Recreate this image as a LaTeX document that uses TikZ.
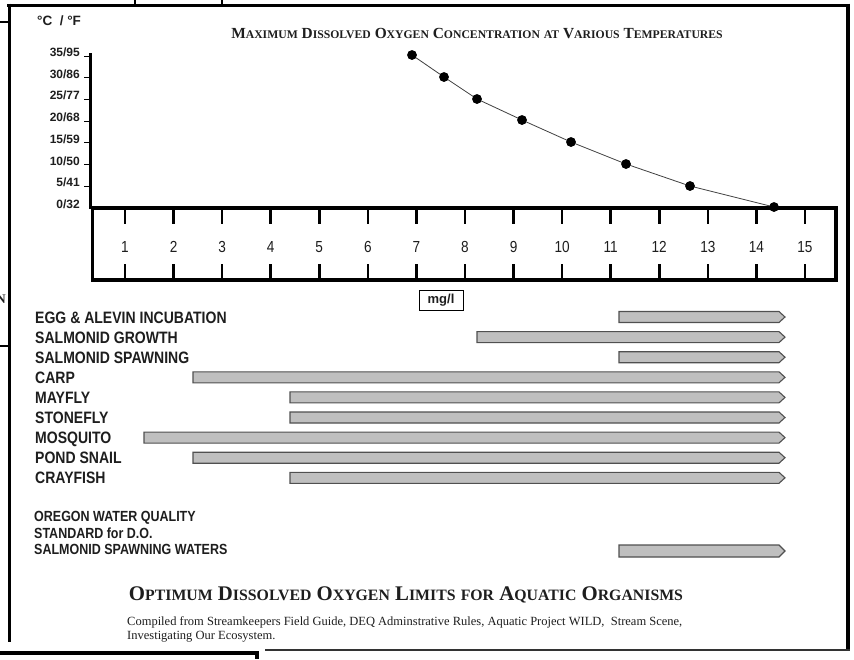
\documentclass[tikz,border=0pt]{standalone}
\usepackage{fontspec}
\setmainfont{Liberation Serif}
\newfontfamily\tnr{Liberation Serif}
\newfontfamily\arial{Liberation Sans}
\newfontfamily\narrow{Liberation Sans}[FakeStretch=0.85]
\makeatletter
\newcommand\smc[1]{{\fontsize{\fpeval{0.76*\f@size}}{\f@baselineskip}\selectfont #1}}
\makeatother
\definecolor{ink}{HTML}{1E1E1E}
\definecolor{barfill}{HTML}{BFBFBF}
\definecolor{baredge}{HTML}{505050}
\begin{document}
\begin{tikzpicture}[x=1pt,y=-1pt,
  frame/.style={line width=3pt, black},
  orglbl/.style={anchor=base west, inner sep=0pt, font=\narrow\bfseries\fontsize{16.5}{18}\selectfont, text=ink},
  orelbl/.style={anchor=base west, inner sep=0pt, font=\narrow\bfseries\fontsize{14.7}{16}\selectfont, text=ink},
  ylbl/.style={anchor=base east, inner sep=0pt, font=\arial\bfseries\fontsize{12}{13}\selectfont, text=ink},
  numlbl/.style={anchor=base, inner sep=0pt, font=\narrow\fontsize{16}{17}\selectfont, text=ink},
  bar/.style={fill=barfill, draw=baredge, line width=1.1pt, line join=miter},
  dot/.style={circle, fill=black, inner sep=0pt, minimum size=9.5pt},
  rtick/.style={line width=2.6pt, black},
  curve/.style={line width=0.8pt, black!75}
]
\useasboundingbox (0,0) rectangle (854,659);
\fill[white] (0,0) rectangle (854,659);

% --- outer frame fragments ---
\draw[frame] (7,5) -- (849.5,5);
\draw[frame, line width=3.5pt] (848,3.5) -- (848,650);
\draw[frame] (9,3.5) -- (9,642);
\draw[line width=2.5pt] (135,0) -- (135,5);
\draw[line width=2.5pt] (222,0) -- (222,5);
\draw[line width=2.5pt] (0,22) -- (9,22);
\draw[line width=2pt] (0,346) -- (9,346);
\draw[line width=4pt] (0,653) -- (257,653) -- (257,659);
\draw[line width=2pt, black!80] (265,650) -- (849.5,650);
\node[anchor=base east, inner sep=0pt, font=\tnr\bfseries\fontsize{13}{13}\selectfont, text=ink] (frag) at (6,303) {N};

% --- chart title ---
\node[anchor=base, inner sep=0pt, font=\tnr\bfseries\fontsize{15.4}{16}\selectfont, text=ink] (title) at (477,38)
 {M\smc{AXIMUM} D\smc{ISSOLVED} O\smc{XYGEN} C\smc{ONCENTRATION} \smc{AT} V\smc{ARIOUS} T\smc{EMPERATURES}};

% --- y axis ---
\node[anchor=base west, inner sep=0pt, font=\arial\bfseries\fontsize{13.5}{14}\selectfont, text=ink] (unit) at (37,25) {°C\ \ / °F};
\draw[line width=2.6pt] (90.5,53) -- (90.5,209);
\foreach \lab [count=\k from 0] in {35/95,30/86,25/77,20/68,15/59,10/50,5/41,0/32} {
  \pgfmathsetmacro\yy{55+21.7*\k}
  \node[ylbl] (y\k) at (80,\yy+1.5) {\lab};
}
\foreach \k in {0,...,6} {
  \pgfmathsetmacro\yy{56+21.7*\k}
  \draw[line width=0.9pt] (84,\yy) -- (90,\yy);
}

% --- ruler ---
\draw[line width=3.8pt] (92.5,208) rectangle (836,280);
\foreach \n in {1,...,15} {
  \pgfmathsetmacro\xx{76.4+48.57*\n}
  \draw[rtick] (\xx,208) -- (\xx,224);
  \draw[rtick] (\xx,264) -- (\xx,280);
  \node[numlbl] (n\n) at (\xx,252) {\n};
}
\node[draw=black, line width=1pt, minimum width=44pt, minimum height=20pt, inner sep=0pt,
      font=\arial\bfseries\fontsize{13}{13}\selectfont, text=ink] (mgl) at (441,300) {mg/l};

% --- curve ---
\node[dot] (d35) at (412,55) {};
\node[dot] (d30) at (444,77) {};
\node[dot] (d25) at (477,99) {};
\node[dot] (d20) at (522,120) {};
\node[dot] (d15) at (571,142) {};
\node[dot] (d10) at (626,164) {};
\node[dot] (d5)  at (690,186) {};
\node[dot] (d0)  at (774,207) {};
\draw[curve] (d35.center) -- (d30.center) -- (d25.center) -- (d20.center) -- (d15.center) -- (d10.center) -- (d5.center) -- (d0.center);
\foreach \d in {d35,d30,d25,d20,d15,d10,d5,d0} \fill (\d) circle (4.75pt);

% --- organisms ---
\foreach \txt/\xs [count=\i from 0] in {EGG \& ALEVIN INCUBATION/619, SALMONID GROWTH/477, SALMONID SPAWNING/619, CARP/193, MAYFLY/290, STONEFLY/290, MOSQUITO/144, POND SNAIL/193, CRAYFISH/290} {
  \pgfmathsetmacro\yy{317+20.1*\i}
  \node[orglbl] (org\i) at (35,\yy+6) {\txt};
  \draw[bar] (\xs,\yy-5.5) -- (779,\yy-5.5) -- (785,\yy) -- (779,\yy+5.5) -- (\xs,\yy+5.5) -- cycle;
}

% --- Oregon standard ---
\node[orelbl] (ore1) at (34,521) {OREGON WATER QUALITY};
\node[orelbl] (ore2) at (34,538) {STANDARD for D.O.};
\node[orelbl] (ore3) at (34,554) {SALMONID SPAWNING WATERS};
\draw[bar] (619,545) -- (779,545) -- (785,551) -- (779,557) -- (619,557) -- cycle;

% --- bottom title and credits ---
\node[anchor=base, inner sep=0pt, font=\tnr\bfseries\fontsize{20.8}{22}\selectfont, text=ink] (main) at (406,600)
 {O\smc{PTIMUM} D\smc{ISSOLVED} O\smc{XYGEN} L\smc{IMITS} \smc{FOR} A\smc{QUATIC} O\smc{RGANISMS}};
\node[anchor=base west, inner sep=0pt, font=\tnr\fontsize{12.5}{13}\selectfont, text=ink] (cred1) at (127,625)
 {Compiled from Streamkeepers Field Guide, DEQ Adminstrative Rules, Aquatic Project WILD, \ Stream Scene,};
\node[anchor=base west, inner sep=0pt, font=\tnr\fontsize{12.5}{13}\selectfont, text=ink] (cred2) at (127,639)
 {Investigating Our Ecosystem.};
\end{tikzpicture}
\end{document}
